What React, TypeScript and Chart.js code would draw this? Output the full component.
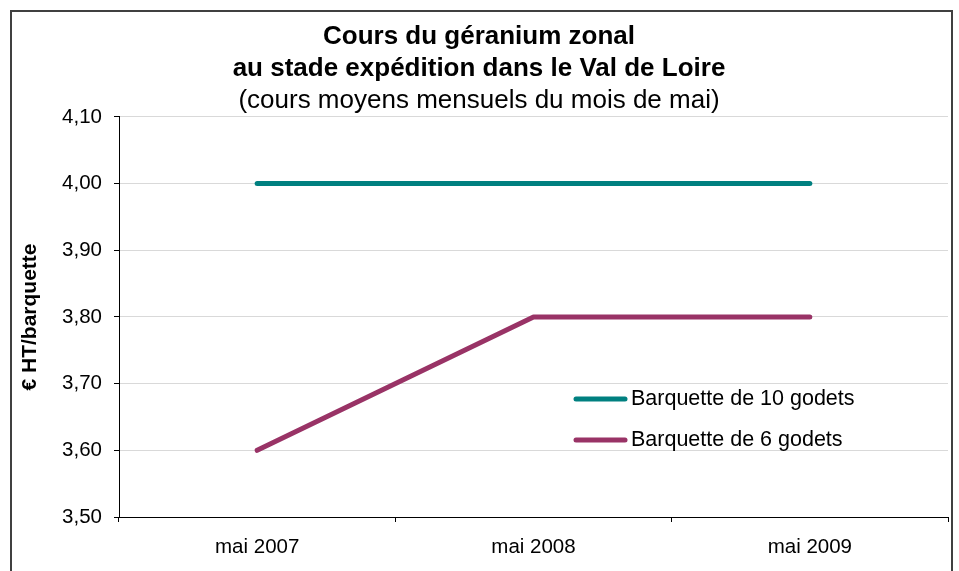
import React, { useEffect, useRef } from 'react';
import { Chart, registerables } from 'chart.js';

Chart.register(...registerables);

// ---- Data ----
const categories = ['mai 2007', 'mai 2008', 'mai 2009'];
const barquette10 = [4.0, 4.0, 4.0];
const barquette6 = [3.6, 3.8, 3.8];
const seriesNames = ['Barquette de 10 godets', 'Barquette de 6 godets'];
const seriesColors = ['#008080', '#993366'];
const titleLines = ['Cours du géranium zonal', 'au stade expédition dans le Val de Loire'];
const subtitleText = '(cours moyens mensuels du mois de mai)';
const yAxisTitle = '€ HT/barquette';
const yMin = 3.5;
const yMax = 4.1;
const yStep = 0.1;

const FONT = "'Liberation Sans', Arial, Helvetica, sans-serif";

const innerLegend = {
  id: 'innerLegend',
  afterDraw(chart: any) {
    const { ctx, chartArea } = chart;
    const x0 = chartArea.left + 455;
    let y = chartArea.top + 282;
    ctx.save();
    chart.data.datasets.forEach((ds: any) => {
      ctx.strokeStyle = ds.borderColor;
      ctx.lineWidth = 5;
      ctx.lineCap = 'round';
      ctx.beginPath();
      ctx.moveTo(x0 + 2, y);
      ctx.lineTo(x0 + 51, y);
      ctx.stroke();
      ctx.fillStyle = '#000';
      ctx.font = `21.5px ${FONT}`;
      ctx.textBaseline = 'middle';
      ctx.textAlign = 'left';
      ctx.fillText(ds.label, x0 + 57, y);
      y += 41;
    });
    ctx.restore();
  },
};

export default function App() {
  const canvasRef = useRef<HTMLCanvasElement | null>(null);

  useEffect(() => {
    const canvas = canvasRef.current;
    if (!canvas) return;
    const tickFont = { family: FONT, size: 20.5 };
    const chart = new Chart(canvas, {
      type: 'line',
      data: {
        labels: categories,
        datasets: [
          {
            label: seriesNames[0],
            data: barquette10,
            borderColor: seriesColors[0],
            backgroundColor: seriesColors[0],
            borderWidth: 5,
            pointRadius: 0,
            tension: 0,
            borderCapStyle: 'round',
            borderJoinStyle: 'round',
            fill: false,
          },
          {
            label: seriesNames[1],
            data: barquette6,
            borderColor: seriesColors[1],
            backgroundColor: seriesColors[1],
            borderWidth: 5,
            pointRadius: 0,
            tension: 0,
            borderCapStyle: 'round',
            borderJoinStyle: 'round',
            fill: false,
          },
        ],
      },
      options: {
        responsive: false,
        animation: false,
        devicePixelRatio: 1,
        layout: { padding: { left: 10, right: 11, top: 0, bottom: 0 } },
        plugins: {
          legend: { display: false },
          tooltip: { enabled: false },
          title: {
            display: true,
            text: titleLines,
            color: '#000',
            font: { family: FONT, size: 26, weight: 'bold', lineHeight: 1.23 },
            padding: { top: 21, bottom: 0 },
          },
          subtitle: {
            display: true,
            text: subtitleText,
            color: '#000',
            font: { family: FONT, size: 26, weight: 'normal', lineHeight: 1.23 },
            padding: { top: 0, bottom: 0 },
          },
        },
        scales: {
          x: {
            offset: true,
            grid: {
              offset: true,
              drawOnChartArea: false,
              drawTicks: true,
              tickLength: 5,
              tickColor: '#000',
              color: '#000',
            },
            border: { color: '#000', width: 1 },
            ticks: { color: '#000', font: tickFont, padding: 13, maxRotation: 0 },
            afterFit(scale: any) {
              scale.height = 54;
            },
          },
          y: {
            min: yMin,
            max: yMax,
            grid: { color: '#d9d9d9', tickColor: '#000', tickLength: 5 },
            border: { color: '#000', width: 1 },
            ticks: {
              stepSize: yStep,
              color: '#000',
              font: tickFont,
              padding: 12,
              callback: (v: any) => Number(v).toFixed(2).replace('.', ','),
            },
            title: {
              display: true,
              text: yAxisTitle,
              color: '#000',
              font: { family: FONT, size: 21, weight: 'bold' },
              padding: { top: 8, bottom: 0 },
            },
            afterFit(scale: any) {
              scale.width = 109;
            },
          },
        },
      } as any,
      plugins: [innerLegend],
    });
    return () => chart.destroy();
  }, []);

  return (
    <div style={{ position: 'fixed', left: 0, top: 0, width: 959, height: 571, background: '#fff', overflow: 'hidden' }}>
      <div
        style={{
          position: 'absolute',
          left: 10,
          top: 10,
          width: 943,
          height: 620,
          border: '2px solid #404040',
          boxSizing: 'border-box',
        }}
      />
      <canvas ref={canvasRef} width={959} height={571} style={{ position: 'absolute', left: 0, top: 0, width: 959, height: 571 }} />
    </div>
  );
}
